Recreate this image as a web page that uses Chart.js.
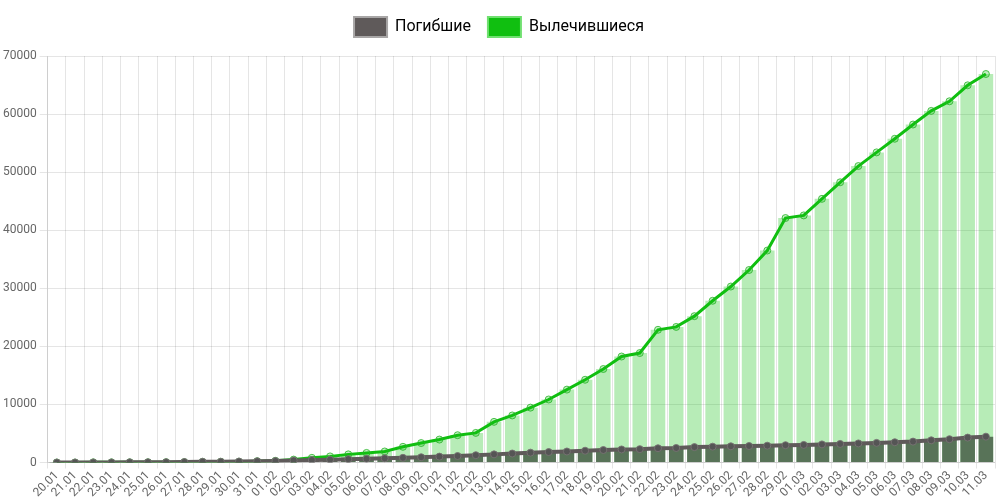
<!DOCTYPE html>
<html>
<head>
<meta charset="utf-8">
<script src="https://cdn.jsdelivr.net/npm/chart.js@4"></script>
<style>
  html, body { margin: 0; padding: 0; background: #fff; }
  #wrap { width: 1000px; height: 500px; }
</style>
</head>
<body>
<div id="wrap"><canvas id="chart"></canvas></div>
<script>
const DATES = [
  '20.01','21.01','22.01','23.01','24.01','25.01','26.01','27.01','28.01','29.01','30.01','31.01',
  '01.02','02.02','03.02','04.02','05.02','06.02','07.02','08.02','09.02','10.02','11.02','12.02',
  '13.02','14.02','15.02','16.02','17.02','18.02','19.02','20.02','21.02','22.02','23.02','24.02',
  '25.02','26.02','27.02','28.02','29.02',
  '01.03','02.03','03.03','04.03','05.03','06.03','07.03','08.03','09.03','10.03','11.03'
];

const DEATHS = [
  6, 9, 17, 18, 26, 42, 56, 82, 131, 133, 171, 213,
  259, 362, 426, 492, 564, 634, 719, 806, 906, 1013, 1115, 1260,
  1400, 1550, 1700, 1800, 1900, 2030, 2150, 2250, 2300, 2460, 2500, 2650,
  2730, 2790, 2840, 2900, 2980,
  3030, 3120, 3200, 3290, 3380, 3490, 3600, 3820, 4010, 4290, 4450
];

const RECOVERED = [
  0, 0, 28, 30, 36, 39, 52, 61, 107, 126, 143, 222,
  284, 500, 800, 1050, 1400, 1650, 1900, 2700, 3350, 3950, 4700, 5100,
  7000, 8100, 9450, 10850, 12550, 14250, 16100, 18250, 18850, 22850, 23350, 25200,
  27850, 30300, 33150, 36500, 42100,
  42550, 45400, 48250, 51050, 53400, 55750, 58200, 60550, 62200, 64950, 66900
];

const SERIES_NAMES = ['Погибшие', 'Вылечившиеся'];

const GRAY = '#5f5a5a';
const GREEN = '#10bf10';

Chart.defaults.font.family = "Roboto, 'Open Sans', sans-serif";
Chart.defaults.font.size = 12;
Chart.defaults.color = '#666';

// extra gap under the legend
const legendGap = {
  id: 'legendGap',
  beforeInit(chart) {
    const fit = chart.legend.fit;
    chart.legend.fit = function () {
      fit.bind(chart.legend)();
      this.height += 9;
    };
  },
};

new Chart(document.getElementById('chart'), {
  data: {
    labels: DATES,
    datasets: [
      {
        type: 'line', label: SERIES_NAMES[0], data: DEATHS, order: 0,
        borderColor: GRAY, backgroundColor: GRAY, borderWidth: 4,
        pointRadius: 3.5, pointBackgroundColor: '#555', pointBorderColor: 'rgba(120,115,115,0.9)',
        pointBorderWidth: 1, tension: 0, fill: false,
      },
      {
        type: 'line', label: SERIES_NAMES[1], data: RECOVERED, order: 0,
        borderColor: GREEN, backgroundColor: GREEN, borderWidth: 3,
        pointRadius: 3.5, pointBackgroundColor: 'rgba(16,191,16,0.25)', pointBorderColor: 'rgba(40,180,40,0.8)',
        pointBorderWidth: 1, tension: 0, fill: false,
      },
      {
        type: 'bar', label: SERIES_NAMES[0], data: DEATHS, order: 1, grouped: false,
        backgroundColor: '#587358', borderWidth: 0,
        categoryPercentage: 1, barPercentage: 0.8,
      },
      {
        type: 'bar', label: SERIES_NAMES[1], data: RECOVERED, order: 1, grouped: false,
        backgroundColor: 'rgba(16,191,16,0.3)', borderWidth: 0,
        categoryPercentage: 1, barPercentage: 0.8,
      },
    ],
  },
  options: {
    responsive: true,
    maintainAspectRatio: false,
    animation: false,
    layout: { padding: { left: 0, right: 2 } },
    plugins: {
      tooltip: { enabled: false },
      legend: {
        position: 'top',
        labels: {
          boxWidth: 33, boxHeight: 20, padding: 17,
          color: '#333', font: { size: 16 },
          generateLabels: () => [
            { text: SERIES_NAMES[0], fillStyle: GRAY, strokeStyle: '#a8a6a6', lineWidth: 2, datasetIndex: 0 },
            { text: SERIES_NAMES[1], fillStyle: GREEN, strokeStyle: '#70e070', lineWidth: 2, datasetIndex: 1 },
          ],
        },
      },
    },
    scales: {
      x: {
        offset: true,
        grid: { color: 'rgba(0,0,0,0.1)', offset: true, tickLength: 6 },
        ticks: { autoSkip: false, color: '#666', minRotation: 45, maxRotation: 45, padding: 0 },
      },
      y: {
        min: 0, max: 70000,
        grid: { color: 'rgba(0,0,0,0.1)' },
        ticks: { stepSize: 10000, color: '#666', padding: 3, callback: v => String(v) },
      },
    },
  },
  plugins: [legendGap],
});
</script>
</body>
</html>
